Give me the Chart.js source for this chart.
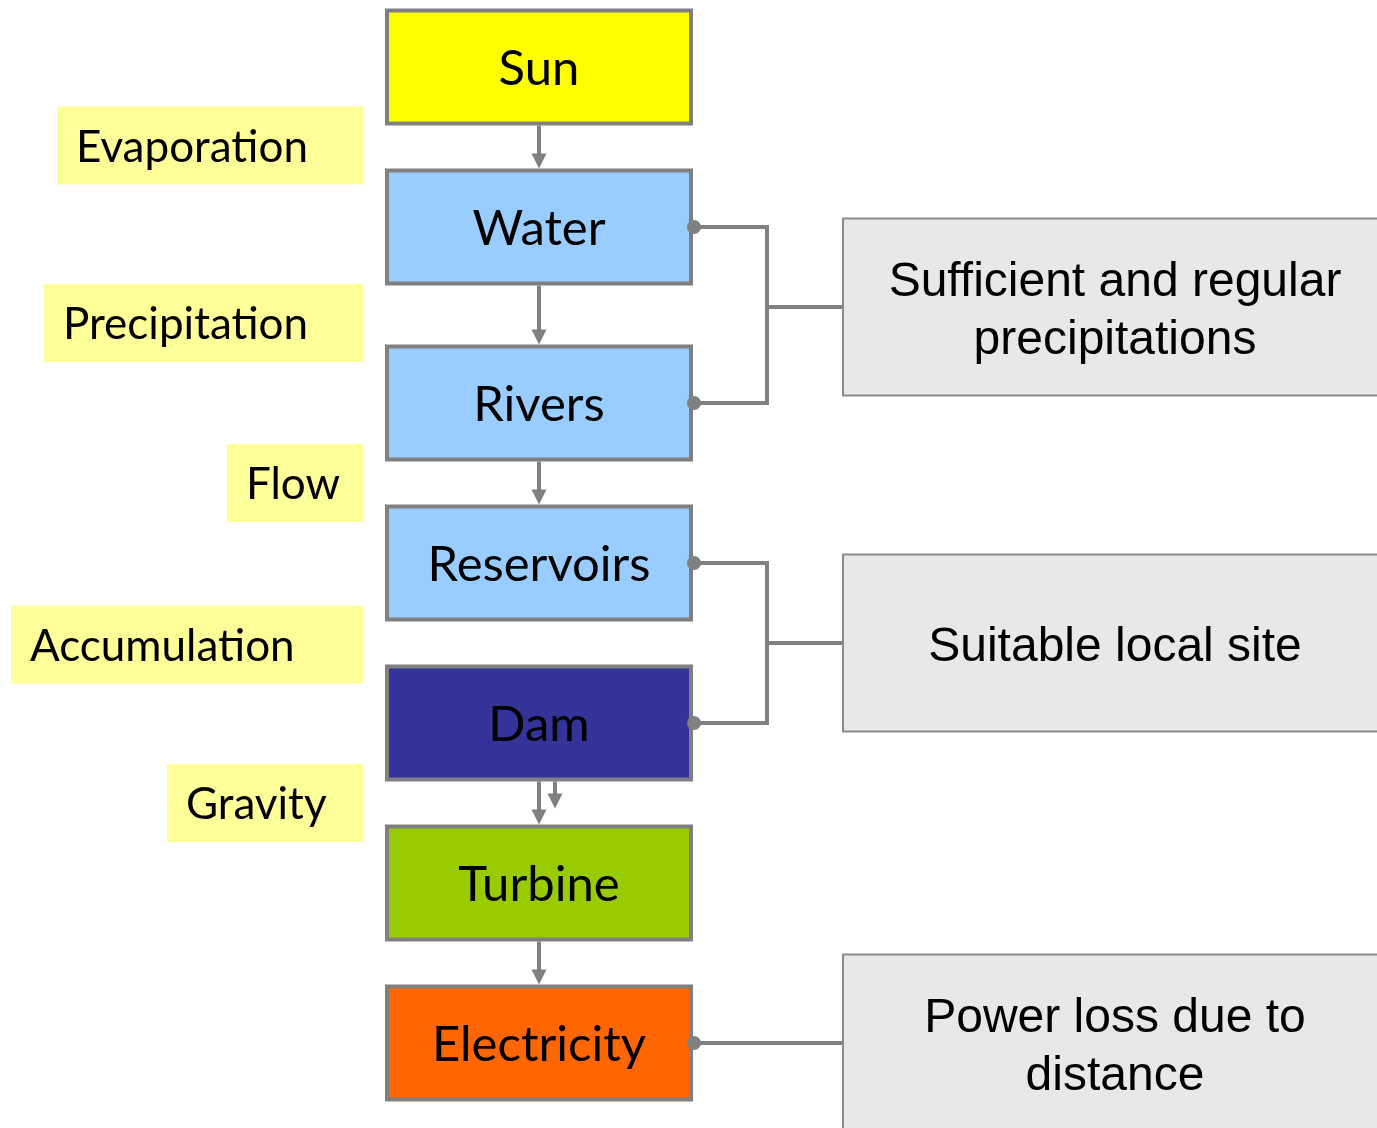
<!DOCTYPE html>
<html><head><meta charset="utf-8">
<script src="https://cdn.jsdelivr.net/npm/chart.js@4/dist/chart.umd.min.js"></script>
<style>html,body{margin:0;padding:0;background:#fff;overflow:hidden}canvas{display:block}</style>
</head><body>
<canvas id="c" width="1377" height="1128"></canvas>
<script>
// ---- data ----
const nodeNames = ['Sun', 'Water', 'Rivers', 'Reservoirs', 'Dam', 'Turbine', 'Electricity'];
const nodeRows = [0, 1, 2.1, 3.1, 4.1, 5.1, 6.1];
// flow arrows: [from node index, to node index]
const flowLinks = [[0, 1], [1, 2], [2, 3], [4, 5], [5, 6]];
const processNames = ['Evaporation', 'Precipitation', 'Flow', 'Accumulation', 'Gravity'];
const processRows = [0.49, 1.6, 2.6, 3.61, 4.6];
const conditionLines = [['Sufficient and regular', 'precipitations'], ['Suitable local site'], ['Power loss due to', 'distance']];
const conditionRows = [1.5, 3.6, 6.1];
const conditionLinks = [[1, 2], [3, 4], [6]];

// ---- styles / layout (x in layout units on a 0..1377 axis) ----
const nodeColors = ['#FFFF00', '#99CCFF', '#99CCFF', '#99CCFF', '#333399', '#99CC00', '#FF6600'];
const layout = {
  nodeX: 539, nodeHalfW: 152, nodeHalfH: 56.5, nodeBorder: 4,
  procRight: 363, procLeft: [57, 44, 227, 11, 167], procHalfH: 39, procPadL: 19,
  busX: 767, dotX: 694, dotR: 7,
  condLeft: 843, condRight: 1387, condHalfH: 88.5, condLineGap: 58,
  arrowHead: 15, arrowHalf: 7.5,
  extraArrowDx: 16, extraArrowLen: 27
};
const lineColor = '#808080';
const nodeFont = '49px Lato';
const procFont = '44px Lato';
const condFont = '48px "Liberation Sans"';

const diagram = {
  id: 'diagram',
  afterDatasetsDraw(chart) {
    const ctx = chart.ctx;
    const X = v => chart.scales.x.getPixelForValue(v);
    const Y = v => chart.scales.y.getPixelForValue(v);
    const L = layout;
    ctx.save();

    function arrow(x, y0, y1) {
      ctx.strokeStyle = lineColor; ctx.fillStyle = lineColor; ctx.lineWidth = 4;
      ctx.beginPath(); ctx.moveTo(x, y0); ctx.lineTo(x, y1 - L.arrowHead + 1); ctx.stroke();
      ctx.beginPath(); ctx.moveTo(x - L.arrowHalf, y1 - L.arrowHead); ctx.lineTo(x + L.arrowHalf, y1 - L.arrowHead);
      ctx.lineTo(x, y1); ctx.closePath(); ctx.fill();
    }
    flowLinks.forEach(([a, b]) => {
      const y0 = Y(nodeRows[a]) + L.nodeHalfH + L.nodeBorder / 2;
      const y1 = Y(nodeRows[b]) - L.nodeHalfH - L.nodeBorder / 2;
      arrow(X(L.nodeX), y0, y1);
    });
    // second (shorter) arrow below the Dam
    const damI = nodeNames.indexOf('Dam');
    const dy0 = Y(nodeRows[damI]) + L.nodeHalfH + L.nodeBorder / 2;
    arrow(X(L.nodeX + L.extraArrowDx), dy0, dy0 + L.extraArrowLen);

    // connectors
    ctx.strokeStyle = lineColor; ctx.lineWidth = 4; ctx.lineCap = 'butt';
    conditionLinks.forEach((links, k) => {
      const yc = Y(conditionRows[k]);
      ctx.beginPath();
      if (links.length > 1) {
        const ya = Y(nodeRows[links[0]]), yb = Y(nodeRows[links[links.length - 1]]);
        ctx.moveTo(X(L.dotX), ya); ctx.lineTo(X(L.busX), ya); ctx.lineTo(X(L.busX), yb); ctx.lineTo(X(L.dotX), yb);
        ctx.moveTo(X(L.busX), yc); ctx.lineTo(X(L.condLeft), yc);
      } else {
        ctx.moveTo(X(L.dotX), yc); ctx.lineTo(X(L.condLeft), yc);
      }
      ctx.stroke();
    });

    // node boxes
    nodeNames.forEach((name, i) => {
      const cx = X(L.nodeX), cy = Y(nodeRows[i]);
      ctx.fillStyle = nodeColors[i];
      ctx.fillRect(cx - L.nodeHalfW, cy - L.nodeHalfH, L.nodeHalfW * 2, L.nodeHalfH * 2);
      ctx.strokeStyle = lineColor; ctx.lineWidth = L.nodeBorder;
      ctx.strokeRect(cx - L.nodeHalfW, cy - L.nodeHalfH, L.nodeHalfW * 2, L.nodeHalfH * 2);
      ctx.fillStyle = '#000'; ctx.font = nodeFont; ctx.textAlign = 'center'; ctx.textBaseline = 'middle';
      ctx.fillText(name, cx, cy + 2);
    });

    // dots on connectors
    ctx.fillStyle = lineColor;
    conditionLinks.forEach(links => links.forEach(n => {
      ctx.beginPath(); ctx.arc(X(L.dotX), Y(nodeRows[n]), L.dotR, 0, Math.PI * 2); ctx.fill();
    }));

    // process labels
    processNames.forEach((name, i) => {
      const cy = Y(processRows[i]);
      const x0 = X(L.procLeft[i]), x1 = X(L.procRight);
      ctx.fillStyle = '#FFFF99';
      ctx.fillRect(x0, cy - L.procHalfH, x1 - x0, L.procHalfH * 2);
      ctx.fillStyle = '#000'; ctx.font = procFont; ctx.textAlign = 'left'; ctx.textBaseline = 'middle';
      ctx.fillText(name, x0 + L.procPadL, cy + 2);
    });

    // condition boxes
    conditionLines.forEach((lines, k) => {
      const cy = Y(conditionRows[k]);
      const x0 = X(L.condLeft), x1 = X(L.condRight);
      ctx.fillStyle = '#E8E8E8';
      ctx.fillRect(x0, cy - L.condHalfH, x1 - x0, L.condHalfH * 2);
      ctx.strokeStyle = '#8C8C8C'; ctx.lineWidth = 2;
      ctx.strokeRect(x0, cy - L.condHalfH, x1 - x0, L.condHalfH * 2);
      ctx.fillStyle = '#000'; ctx.font = condFont; ctx.textAlign = 'center'; ctx.textBaseline = 'middle';
      const cx = (x0 + x1) / 2;
      lines.forEach((t, j) => {
        ctx.fillText(t, cx, cy + (j - (lines.length - 1) / 2) * L.condLineGap + 5);
      });
    });
    ctx.restore();
  }
};

new Chart(document.getElementById('c'), {
  type: 'scatter',
  data: { datasets: [{ data: nodeNames.map((n, i) => ({ x: layout.nodeX, y: nodeRows[i] })), pointRadius: 0 }] },
  options: {
    responsive: false, animation: false,
    layout: { padding: 0 },
    plugins: { legend: { display: false }, tooltip: { enabled: false } },
    scales: {
      x: { type: 'linear', min: 0, max: 1377, display: false },
      y: { type: 'linear', min: -67 / 160, max: (1128 - 67) / 160, reverse: true, display: false }
    }
  },
  plugins: [diagram]
});
</script>
</body></html>
